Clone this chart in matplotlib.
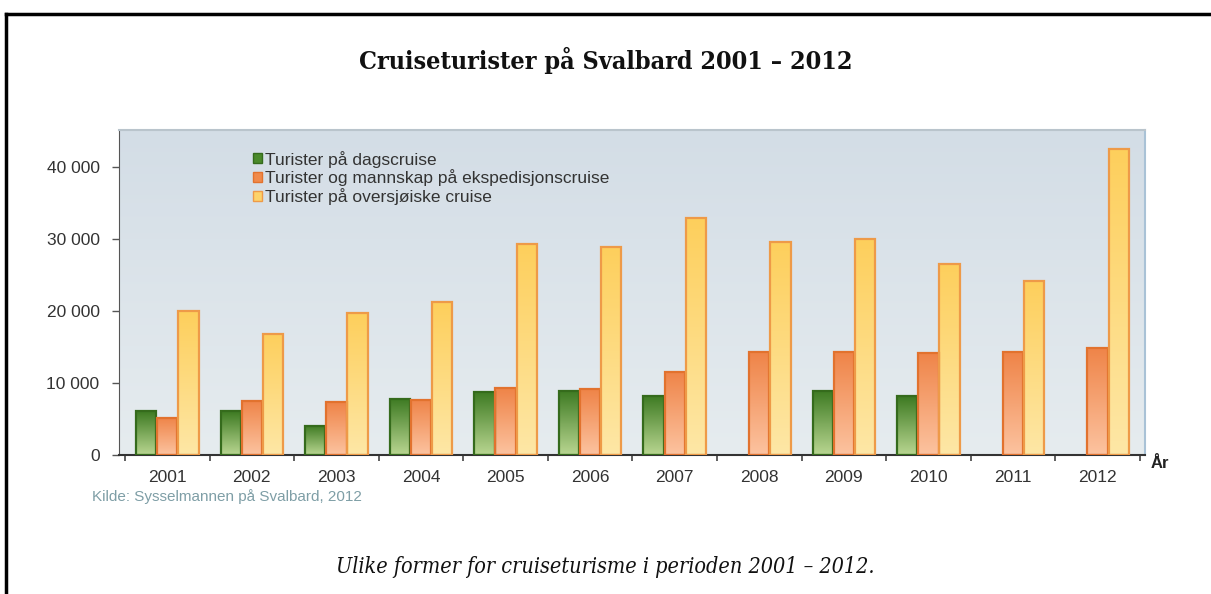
import matplotlib.pyplot as plt
import numpy as np
from matplotlib.colors import LinearSegmentedColormap
from matplotlib.patches import Patch
from matplotlib.lines import Line2D

years = ['2001', '2002', '2003', '2004', '2005', '2006',
         '2007', '2008', '2009', '2010', '2011', '2012']
dagscruise = [6050, 6050, 4040, 7800, 8800, 8950, 8260, None, 8950, 8170, None, None]
ekspedisjon = [5180, 7570, 7340, 7700, 9270, 9170, 11600, 14300, 14300, 14200, 14300, 14950]
oversjoisk = [20000, 16850, 19700, 21270, 29320, 28940, 32940, 29650, 29980, 26600, 24140, 42490]
series_labels = ['Turister på dagscruise',
                 'Turister og mannskap på ekspedisjonscruise',
                 'Turister på oversjøiske cruise']


def to_float(vals):
    return [np.nan if v is None else float(v) for v in vals]


fig = plt.figure(figsize=(12.11, 5.94), dpi=100)
ax = fig.add_axes([119 / 1211, 1 - 455 / 594, (1145 - 119) / 1211, (455 - 130) / 594])

# background gradient of plot area
bg = LinearSegmentedColormap.from_list('bg', ['#e6ecef', '#d3dde6'])
ax.imshow(np.linspace(0, 1, 256).reshape(-1, 1), cmap=bg, origin='lower',
          extent=[0, 1, 0, 1], transform=ax.transAxes, aspect='auto', zorder=0)

x = np.arange(len(years))
width = 0.24
step = 0.25

styles = [
    (dagscruise, ['#b9d691', '#3d7a22'], '#356b1c', '#4a8a2a'),
    (ekspedisjon, ['#fcc3a0', '#ef8448'], '#e2722e', '#f08a4b'),
    (oversjoisk, ['#fee7a6', '#fdcf5c'], '#ee9a48', '#fdd36a'),
]

for i, (vals, grad, edge, face) in enumerate(styles):
    h = to_float(vals)
    pos = x + (i - 1) * step
    bars = ax.bar(pos, h, width, color=face, linewidth=0, zorder=2)
    cmap = LinearSegmentedColormap.from_list('g%d' % i, grad)
    for p in bars:
        if np.isnan(p.get_height()):
            continue
        x0, y0 = p.get_x(), p.get_y()
        im = ax.imshow(np.linspace(0, 1, 128).reshape(-1, 1), cmap=cmap, origin='lower',
                       extent=[x0, x0 + p.get_width(), y0, y0 + p.get_height()],
                       aspect='auto', zorder=2.5)
        im.set_clip_path(p)
    ax.bar(pos, h, width, fill=False, edgecolor=edge, linewidth=1.6, zorder=3)

ax.set_xlim(-0.57, 11.56)
ax.set_ylim(0, 45200)

ax.set_yticks([0, 10000, 20000, 30000, 40000])
ax.set_yticklabels(['0', '10 000', '20 000', '30 000', '40 000'])
ax.set_xticks(np.arange(len(years) + 1) - 0.5)
ax.set_xticklabels([])
ax.set_xticks(x, minor=True)
ax.set_xticklabels(years, minor=True)
ax.tick_params(axis='x', which='major', direction='out', length=4, width=1.2, color='#444444')
ax.tick_params(axis='x', which='minor', length=0, pad=11, labelsize=12.5, labelcolor='#333333')
ax.tick_params(axis='y', direction='out', length=5, width=1, color='#555555',
               pad=9, labelsize=12.5, labelcolor='#333333')
for lab in ax.get_xticklabels(minor=True) + ax.get_yticklabels():
    lab.set_family('Liberation Sans')

ax.spines['left'].set_color('#555555')
ax.spines['bottom'].set_color('#333333')
ax.spines['bottom'].set_linewidth(1.5)
ax.spines['top'].set_color('#b9c4cc')
ax.spines['right'].set_color('#a9c2d6')
ax.spines['top'].set_linewidth(1.5)
ax.spines['right'].set_linewidth(1.5)

handles = [Patch(facecolor=c[3], edgecolor=c[2], linewidth=1) for c in styles]
ax.legend(handles, series_labels, loc='upper left', bbox_to_anchor=(0.124, 0.958),
          frameon=False, handlelength=0.5, handleheight=0.5, handletextpad=0.2,
          labelspacing=0.1, prop={'family': 'Liberation Sans', 'size': 12.5},
          labelcolor='#333333', borderaxespad=0)

fig.text(1151 / 1211, 1 - 463 / 594, 'År', fontsize=12, fontweight='bold',
         family='Liberation Sans', color='#222222', va='center', ha='left')
fig.text(92 / 1211, 1 - 497 / 594, 'Kilde: Sysselmannen på Svalbard, 2012', fontsize=11,
         family='Liberation Sans', color='#7e9ea6', va='center', ha='left')

fig.text(0.5, 1 - 60 / 594, 'Cruiseturister på Svalbard 2001 – 2012', fontsize=18,
         fontweight='bold', family=['DejaVu Serif Condensed', 'DejaVu Serif'],
         fontstretch='condensed', ha='center', va='center', color='#111111')
fig.text(0.5, 1 - 567 / 594, 'Ulike former for cruiseturisme i perioden 2001 – 2012.',
         fontsize=15.5, style='italic', family=['DejaVu Serif Condensed', 'DejaVu Serif'],
         fontstretch='condensed', ha='center', va='center', color='#111111')

# page frame
fig.add_artist(Line2D([6 / 1211, 1.0], [1 - 14 / 594, 1 - 14 / 594], transform=fig.transFigure,
                      color='black', linewidth=2.5))
fig.add_artist(Line2D([6 / 1211, 6 / 1211], [0, 1 - 14 / 594], transform=fig.transFigure,
                      color='black', linewidth=2.5))

fig.savefig('out.png', dpi=100)
